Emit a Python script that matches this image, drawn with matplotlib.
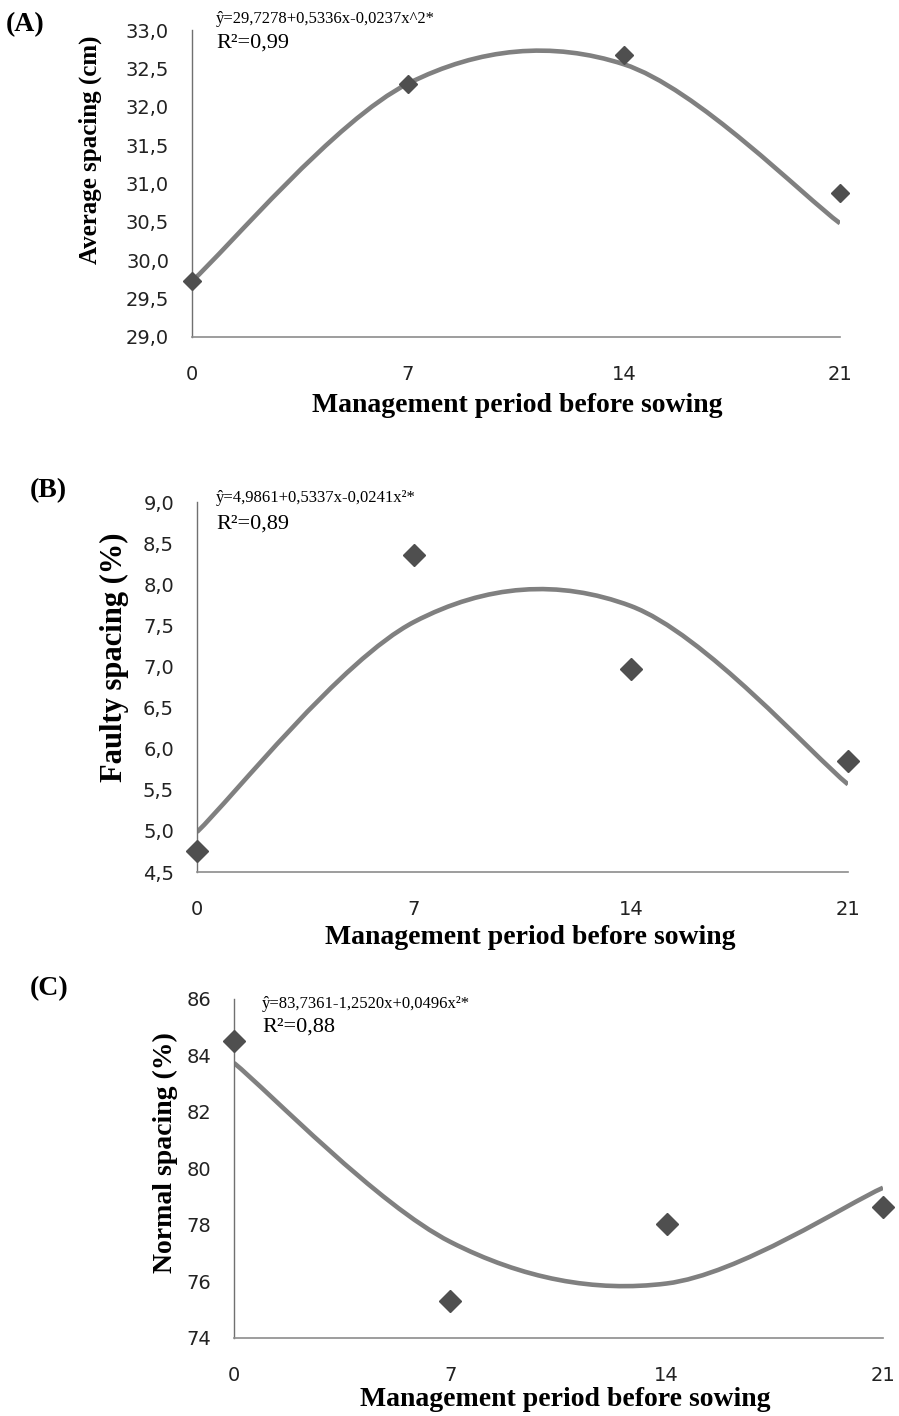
import numpy as np
import matplotlib
matplotlib.use("Agg")
import matplotlib.pyplot as plt
from matplotlib.path import Path
from matplotlib.patches import PathPatch

# Sampling days (management period before sowing)
days = [0, 7, 14, 21]

# Observed means
avg_spacing = [29.73, 32.30, 32.68, 30.87]
faulty_spacing = [4.75, 8.35, 6.97, 5.85]
normal_spacing = [84.50, 75.30, 78.05, 78.65]

# Quadratic trend coefficients (b0, b1, b2)
coef_a = [29.7278, 0.5336, -0.0237]
coef_b = [4.9861, 0.5337, -0.0241]
coef_c = [83.7361, -1.2520, 0.0496]

eq_a = "ŷ=29,7278+0,5336x-0,0237x^2*"
eq_b = "ŷ=4,9861+0,5337x-0,0241x²*"
eq_c = "ŷ=83,7361-1,2520x+0,0496x²*"
r2_a = "R²=0,99"
r2_b = "R²=0,89"
r2_c = "R²=0,88"

yticks_a = [29.0, 29.5, 30.0, 30.5, 31.0, 31.5, 32.0, 32.5, 33.0]
yticks_b = [4.5, 5.0, 5.5, 6.0, 6.5, 7.0, 7.5, 8.0, 8.5, 9.0]
yticks_c = [74, 76, 78, 80, 82, 84, 86]

xlabel = "Management period before sowing"
ylabel_a = "Average spacing (cm)"
ylabel_b = "Faulty spacing (%)"
ylabel_c = "Normal spacing (%)"

W, H = 899, 1416
fig = plt.figure(figsize=(W / 100, H / 100), dpi=100)

SERIF = ["Liberation Serif", "DejaVu Serif"]
SANS = ["DejaVu Sans"]
LINE_C = "#808080"
MARK_C = "#4f4f4f"


def box(l, r, b, t):
    return [l / W, 1 - b / H, (r - l) / W, (b - t) / H]


def smooth_path(xs, ys):
    """Excel-style smoothed line through the points as cubic Bezier segments."""
    pts = np.column_stack([xs, ys]).astype(float)
    n = len(pts)
    verts = [pts[0]]
    codes = [Path.MOVETO]
    for i in range(n - 1):
        p_prev = pts[i - 1] if i > 0 else pts[i]
        p_next2 = pts[i + 2] if i + 2 < n else pts[i + 1]
        c1 = pts[i] + (pts[i + 1] - p_prev) / 6.0
        c2 = pts[i + 1] - (p_next2 - pts[i]) / 6.0
        verts += [c1, c2, pts[i + 1]]
        codes += [Path.CURVE4] * 3
    return Path(verts, codes)


def panel(rect, yvals, coef, yticks, fmt, ylabel, eq, r2, letter,
          letter_xy, eq_xy, r2_y, ylab_xy, ylab_fs, xlab_xy, ms):
    ax = fig.add_axes(rect)
    x = np.array(days, dtype=float)
    fitted = coef[0] + coef[1] * x + coef[2] * x ** 2
    ax.add_patch(PathPatch(smooth_path(x, fitted), facecolor="none",
                           edgecolor=LINE_C, lw=3.3, capstyle="butt",
                           zorder=2))
    ax.plot(days, yvals, linestyle="none", marker="D", ms=ms,
            color=MARK_C, mec=MARK_C, zorder=3, clip_on=False)
    ax.set_xlim(0, 21)
    ax.set_ylim(yticks[0], yticks[-1])
    ax.set_xticks(days)
    ax.set_xticklabels([str(d) for d in days], family=SANS, fontsize=14,
                       color="#222222")
    ax.set_yticks(yticks)
    ax.set_yticklabels([fmt(v) for v in yticks], family=SANS,
                       fontsize=14, color="#222222")
    ax.tick_params(axis="both", length=0)
    ax.tick_params(axis="y", pad=16.5)
    ax.tick_params(axis="x", pad=20)
    for s in ("top", "right"):
        ax.spines[s].set_visible(False)
    ax.spines["left"].set_color("#707070")
    ax.spines["bottom"].set_color("#8c8c8c")
    ax.spines["left"].set_linewidth(1.0)
    ax.spines["bottom"].set_linewidth(1.2)
    ax.set_facecolor("none")

    fig.text(ylab_xy[0] / W, 1 - ylab_xy[1] / H, ylabel, rotation=90,
             ha="center", va="center", family=SERIF, fontweight="bold",
             fontsize=ylab_fs)
    fig.text(xlab_xy[0] / W, 1 - xlab_xy[1] / H, xlabel, ha="center",
             va="center", family=SERIF, fontweight="bold", fontsize=20)
    fig.text(letter_xy[0] / W, 1 - letter_xy[1] / H, letter, ha="left",
             va="center", family=SERIF, fontweight="bold", fontsize=20)
    fig.text(eq_xy[0] / W, 1 - eq_xy[1] / H, eq, ha="left", va="center",
             family=SERIF, fontsize=12)
    fig.text(eq_xy[0] / W, 1 - r2_y / H, r2, ha="left", va="center",
             family=SERIF, fontsize=16)
    return ax


def comma1(v):
    return f"{v:.1f}".replace(".", ",")


def comma0(v):
    return f"{v:.0f}"


panel(box(192, 840, 337, 30), avg_spacing, coef_a, yticks_a, comma1,
      ylabel_a, eq_a, r2_a, "(A)", (6, 25), (216, 19), 43,
      (90, 150), 18, (517, 405), 9.5)
panel(box(197, 848, 872, 502), faulty_spacing, coef_b, yticks_b, comma1,
      ylabel_b, eq_b, r2_b, "(B)", (30, 491), (216, 498), 524,
      (114, 657), 22, (530, 938), 11)
panel(box(234, 883, 1338, 999), normal_spacing, coef_c, yticks_c, comma0,
      ylabel_c, eq_c, r2_c, "(C)", (30, 989), (262, 1004), 1027,
      (165, 1153), 20, (565, 1400), 11)

fig.savefig("out.png", dpi=100, facecolor="white")
